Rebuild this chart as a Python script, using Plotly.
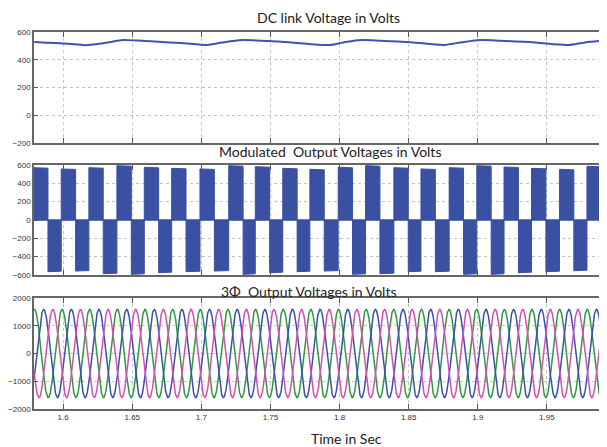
import numpy as np
import plotly.graph_objects as go
from plotly.subplots import make_subplots

# ---------------- data ----------------
# DC link voltage (time in s, volts)
DC_T = [1.5790, 1.5891, 1.5999, 1.6085, 1.6164, 1.6250, 1.6344, 1.6430, 1.6538,
        1.6718, 1.6898, 1.7042, 1.7150, 1.7294, 1.7438, 1.7654, 1.7920, 1.8028,
        1.8158, 1.8301, 1.8517, 1.8755, 1.8877, 1.9021, 1.9165, 1.9417, 1.9647,
        1.9776, 1.9935]
DC_V = [528, 522, 518, 512, 505, 513, 528, 542, 538,
        528, 518, 506, 524, 542, 537, 525, 506, 525,
        542, 537, 526, 507, 525, 542, 537, 524, 506,
        525, 540]

# Modulated output: start time of each positive half-cycle block and block peaks
POS_START_T = [1.5786, 1.5986, 1.6186, 1.6389, 1.6587, 1.6785, 1.6990, 1.7198,
               1.7390, 1.7589, 1.7785, 1.7990, 1.8188, 1.8393, 1.8589, 1.8793,
               1.8993, 1.9190, 1.9389, 1.9591, 1.9790]
POS_PEAK_V = [571, 557, 571, 593, 575, 564, 557, 593, 582, 564, 553,
              575, 593, 571, 557, 571, 593, 578, 564, 553, 586]
NEG_PEAK_V = [-564, -557, -586, -593, -575, -564, -557, -593, -575, -564, -557,
              -593, -586, -564, -564, -593, -593, -575, -564, -553, -575]
POS_WIDTH_S = 0.0104
CYCLE_S = 0.0200

# Three-phase output voltages (read amplitude, line frequency and first peak time)
PHASE_NAMES = ["Va", "Vb", "Vc"]
PHASE_AMP_V = [1590, 1590, 1590]
PHASE_FIRST_PEAK_T = [1.5792, 1.5859, 1.5925]
LINE_FREQ_HZ = 50

X_TICKS = [1.6, 1.65, 1.7, 1.75, 1.8, 1.85, 1.9, 1.95]
X_TICK_TEXT = ["1.6", "1.65", "1.7", "1.75", "1.8", "1.85", "1.9", "1.95"]
Y1_TICKS = [-200, 0, 200, 400, 600]
Y2_TICKS = [-600, -400, -200, 0, 200, 400, 600]
Y3_TICKS = [-2000, -1000, 0, 1000, 2000]

X_RANGE = [1.5789, 1.9935]

# ---------------- figure ----------------
OFF = 8  # page body margin
WIN_W, WIN_H = 607, 447
W, H = WIN_W - OFF, WIN_H - OFF
ML, MR, MT = 31 - OFF, 0, 32 - OFF
MB = H - (409 - OFF)
PH = H - MT - MB
PW = W - ML - MR


def ypx(y):  # window pixel -> paper fraction
    return (H - MB - (y - OFF)) / PH


def xpx(x):
    return ((x - OFF) - ML) / PW


fig = make_subplots(rows=3, cols=1, shared_xaxes=False)

BLUE = "#3c4fae"
FILL_BLUE = "#3a50a2"
GREEN = "#2e9a3e"
PINK = "#d54fae"

# Panel 1
fig.add_trace(go.Scatter(x=DC_T, y=DC_V, mode="lines",
                         line=dict(color="#4252b4", width=2, shape="spline", smoothing=0.8),
                         showlegend=False, hoverinfo="skip"), row=1, col=1)

# Panel 2: blocks
bx, by = [], []
for i, s in enumerate(POS_START_T):
    e_pos = s + POS_WIDTH_S
    e_neg = POS_START_T[i + 1] if i + 1 < len(POS_START_T) else s + CYCLE_S
    vp = POS_PEAK_V[i]
    vn = NEG_PEAK_V[i]
    bx += [s, s, e_pos, e_pos, None]
    by += [0, vp, vp * 0.99, 0, None]
    bx += [e_pos, e_pos, e_neg, e_neg, None]
    by += [0, vn, vn * 0.99, 0, None]
fig.add_trace(go.Scatter(x=bx, y=by, mode="lines", fill="toself",
                         fillcolor=FILL_BLUE, line=dict(color=FILL_BLUE, width=1),
                         showlegend=False, hoverinfo="skip"), row=2, col=1)
fig.add_trace(go.Scatter(x=[POS_START_T[0], POS_START_T[-1] + CYCLE_S], y=[0, 0], mode="lines",
                         line=dict(color=FILL_BLUE, width=1.5),
                         showlegend=False, hoverinfo="skip"), row=2, col=1)

# Panel 3: three-phase sines
t = np.linspace(X_RANGE[0], X_RANGE[1], 4000)
colors = [GREEN, BLUE, PINK]
for name, amp, tp, c in zip(PHASE_NAMES, PHASE_AMP_V, PHASE_FIRST_PEAK_T, colors):
    v = amp * np.cos(2 * np.pi * LINE_FREQ_HZ * (t - tp))
    fig.add_trace(go.Scatter(x=t, y=v, mode="lines", name=name,
                             line=dict(color=c, width=1.5),
                             showlegend=False, hoverinfo="skip"), row=3, col=1)

domains = [(ypx(143), ypx(32)), (ypx(275), ypx(165)), (ypx(409), ypx(298))]
yticks = [Y1_TICKS, Y2_TICKS, Y3_TICKS]
yranges = [[-200, 600], [-600, 600], [-2000, 2000]]
tickfont = dict(family="Liberation Sans, Arial, sans-serif", size=8, color="#333")
GRID = "#c4c4c4"

for i in range(3):
    n = "" if i == 0 else str(i + 1)
    fig.layout["xaxis" + n].update(
        domain=[0, 1], range=X_RANGE, tickvals=X_TICKS, ticktext=X_TICK_TEXT,
        showticklabels=(i == 2), ticks="inside", ticklen=5, tickcolor="#555",
        showgrid=True, gridcolor=GRID, griddash="dot", gridwidth=1,
        showline=True, linecolor="#666", linewidth=1.5, mirror="ticks",
        zeroline=False, tickfont=tickfont)
    fig.layout["yaxis" + n].update(
        domain=list(domains[i]), range=yranges[i], tickvals=yticks[i],
        ticks="inside", ticklen=4, tickcolor="#555",
        showgrid=True, gridcolor=GRID, griddash="dot", gridwidth=1,
        showline=True, linecolor="#666", linewidth=1.5, mirror=False,
        zeroline=False, tickfont=tickfont)

title_font = dict(family="Lato, Open Sans, sans-serif", size=14, color="#222")

annotations = [
    dict(text="DC link Voltage in Volts", x=xpx(327), y=ypx(17)),
    dict(text="Modulated  Output Voltages in Volts", x=xpx(329), y=ypx(151)),
    dict(text="3Φ  Output Voltages in Volts", x=xpx(307), y=ypx(291)),
    dict(text="Time in Sec", x=xpx(345), y=ypx(438)),
]
for a in annotations:
    a.update(xref="paper", yref="paper", showarrow=False, xanchor="center",
             yanchor="middle", font=title_font)

fig.update_layout(
    width=W, height=H, margin=dict(l=ML, r=MR, t=MT, b=MB),
    paper_bgcolor="white", plot_bgcolor="white",
    annotations=annotations, showlegend=False,
)

fig.write_html("out.html")
